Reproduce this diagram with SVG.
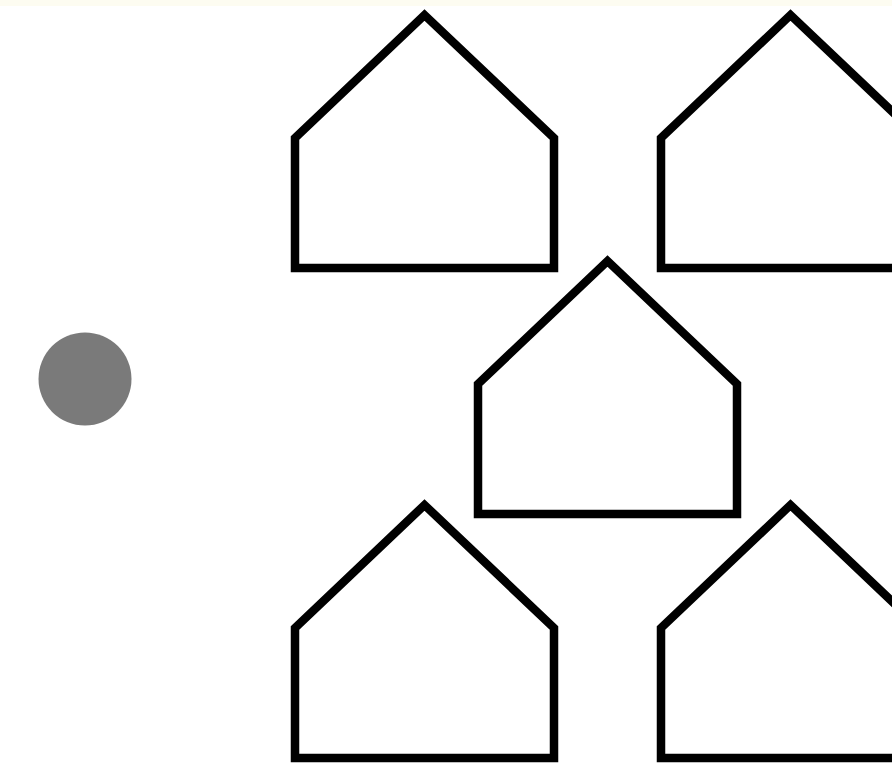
<svg xmlns="http://www.w3.org/2000/svg" xmlns:xlink="http://www.w3.org/1999/xlink" width="892" height="776" viewBox="0 0 892 776">
  <style>
    .house { fill: #ffffff; stroke: #000000; stroke-width: 8.5; stroke-linejoin: miter; }
    .dot { fill: #7a7a7a; }
  </style>
  <defs>
    <path id="houseShape" d="M0,123 L129.5,0 L259,123 L259,253 L0,253 Z"/>
  </defs>
  <rect x="0" y="0" width="892" height="776" fill="#ffffff"/>
  <rect x="0" y="0" width="892" height="6" fill="#fdfcf1"/>
  <g id="dot">
    <circle class="dot" cx="85" cy="379" r="46.5"/>
  </g>
  <g id="house-top-left">
    <use xlink:href="#houseShape" href="#houseShape" class="house" transform="translate(295,15)"/>
  </g>
  <g id="house-top-right">
    <use xlink:href="#houseShape" href="#houseShape" class="house" transform="translate(661,15)"/>
  </g>
  <g id="house-middle">
    <use xlink:href="#houseShape" href="#houseShape" class="house" transform="translate(478,261)"/>
  </g>
  <g id="house-bottom-left">
    <use xlink:href="#houseShape" href="#houseShape" class="house" transform="translate(295,505)"/>
  </g>
  <g id="house-bottom-right">
    <use xlink:href="#houseShape" href="#houseShape" class="house" transform="translate(661,505)"/>
  </g>
  <g id="connectors"/>
</svg>
